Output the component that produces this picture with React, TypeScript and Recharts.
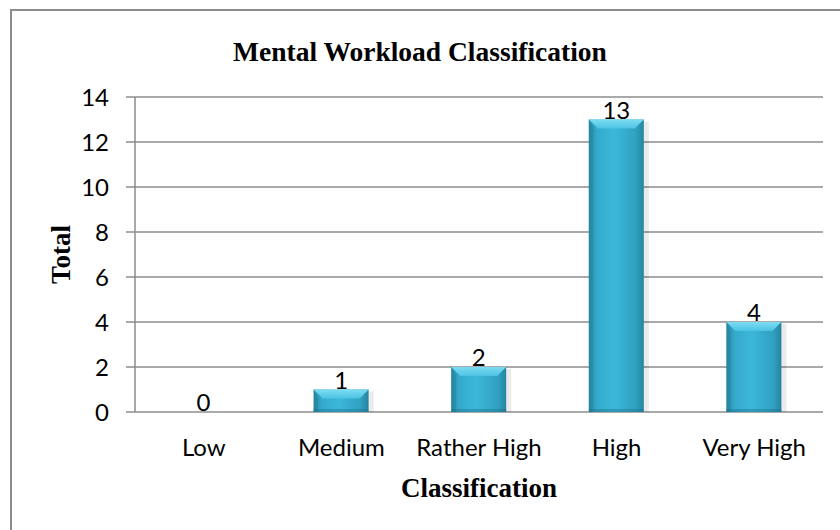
import React from 'react';
import { BarChart, Bar, XAxis, YAxis, CartesianGrid, LabelList, Label } from 'recharts';

const categories = ['Low', 'Medium', 'Rather High', 'High', 'Very High'];
const totals = [0, 1, 2, 13, 4];
const yTicks = [0, 2, 4, 6, 8, 10, 12, 14];
const boundaryTicks = [0, 1, 2, 3, 4, 5];

const data = categories.map((c, i) => ({ name: c, total: totals[i] }));

const GRID = '#8c8c8c';
const TICK_FONT = 'Lato, "Open Sans", sans-serif';
const SERIF = '"Liberation Serif", "DejaVu Serif", serif';

const BevelBar = (props: any) => {
  const { x, y, width, height } = props;
  if (!height || height <= 0) return null;
  const b = Math.min(9, height / 2);
  return (
    <g>
      <rect x={x + 2} y={y + 2} width={width + 3} height={height - 2} fill="#000" opacity={0.08} />
      <rect x={x} y={y} width={width} height={height} fill="url(#barGrad)" />
      <polygon
        points={`${x},${y} ${x + width},${y} ${x + width - b},${y + b} ${x + b},${y + b}`}
        fill="url(#topGrad)"
      />
      <polygon
        points={`${x},${y} ${x + b * 0.5},${y + b} ${x + b * 0.5},${y + height} ${x},${y + height}`}
        fill="#1d7a93"
        opacity={0.35}
      />
      <rect x={x} y={y + height - 3} width={width} height={3} fill="#1b6f86" opacity={0.4} />
    </g>
  );
};

export default function App() {
  return (
    <div style={{ position: 'absolute', left: 0, top: 0, width: 840, height: 530, overflow: 'hidden', background: '#fff' }}>
      <div
        style={{
          position: 'absolute',
          left: 10,
          top: 9,
          width: 860,
          height: 560,
          borderLeft: `2px solid ${GRID}`,
          borderTop: `2px solid ${GRID}`,
        }}
      />
      <div
        style={{
          position: 'absolute',
          left: 0,
          top: 36,
          width: 840,
          textAlign: 'center',
          fontFamily: SERIF,
          fontWeight: 'bold',
          fontSize: 27.5,
          lineHeight: '32px',
          color: '#000',
        }}
      >
        Mental Workload Classification
      </div>
      <BarChart
        width={840}
        height={530}
        data={data}
        margin={{ top: 97, right: 17, left: 35, bottom: 58 }}
        style={{ position: 'absolute', left: 0, top: 0 }}
      >
        <defs>
          <linearGradient id="barGrad" x1="0" y1="0" x2="1" y2="0">
            <stop offset="0%" stopColor="#2a8ba6" />
            <stop offset="15%" stopColor="#34aacc" />
            <stop offset="45%" stopColor="#3cb7d9" />
            <stop offset="85%" stopColor="#30a1c2" />
            <stop offset="100%" stopColor="#25859f" />
          </linearGradient>
          <linearGradient id="topGrad" x1="0" y1="0" x2="0" y2="1">
            <stop offset="0%" stopColor="#7ddcf3" />
            <stop offset="100%" stopColor="#4cc3e3" />
          </linearGradient>
        </defs>
        <CartesianGrid horizontal vertical={false} stroke={GRID} strokeWidth={1.5} />
        <XAxis
          xAxisId="bound"
          type="number"
          domain={[0, 5]}
          ticks={boundaryTicks}
          tick={false}
          tickLine={{ stroke: GRID, strokeWidth: 1.5 }}
          tickSize={8}
          axisLine={{ stroke: GRID, strokeWidth: 1.5 }}
          height={0}
          allowDataOverflow
        />
        <XAxis
          dataKey="name"
          axisLine={false}
          tickLine={false}
          height={60}
          tickMargin={21}
          tick={{ fill: '#000', fontSize: 24, fontFamily: TICK_FONT }}
          interval={0}
        >
          <Label
            content={(p: any) => {
              const vb = p.viewBox;
              return (
                <text
                  x={vb.x + vb.width / 2}
                  y={vb.y + 85}
                  textAnchor="middle"
                  fontFamily={SERIF}
                  fontWeight="bold"
                  fontSize={27}
                  fill="#000"
                >
                  Classification
                </text>
              );
            }}
          />
        </XAxis>
        <YAxis
          domain={[0, 14]}
          ticks={yTicks}
          width={100}
          interval={0}
          tickSize={9}
          tickMargin={17}
          axisLine={{ stroke: GRID, strokeWidth: 1.5 }}
          tickLine={{ stroke: GRID, strokeWidth: 1.5 }}
          tick={{ fill: '#000', fontSize: 24, fontFamily: TICK_FONT }}
        >
          <Label
            content={(p: any) => {
              const vb = p.viewBox;
              const cx = vb.x + 26;
              const cy = vb.y + vb.height / 2;
              return (
                <text
                  x={cx}
                  y={cy}
                  transform={`rotate(-90 ${cx} ${cy})`}
                  textAnchor="middle"
                  dominantBaseline="central"
                  fontFamily={SERIF}
                  fontWeight="bold"
                  fontSize={27}
                  fill="#000"
                >
                  Total
                </text>
              );
            }}
          />
        </YAxis>
        <Bar dataKey="total" barSize={55} shape={<BevelBar />} isAnimationActive={false}>
          <LabelList
            dataKey="total"
            position="top"
            offset={1}
            style={{ fill: '#000', fontSize: 24, fontFamily: TICK_FONT }}
          />
        </Bar>
      </BarChart>
    </div>
  );
}
